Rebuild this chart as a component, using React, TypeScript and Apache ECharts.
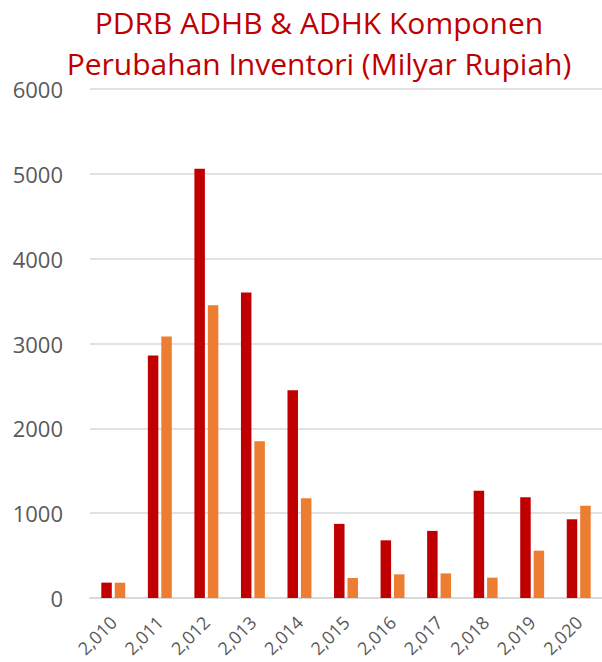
import React, { useEffect, useRef } from "react";
import * as echarts from "echarts";

const categories = ["2,010", "2,011", "2,012", "2,013", "2,014", "2,015", "2,016", "2,017", "2,018", "2,019", "2,020"];
const adhb = [181, 2858, 5059, 3602, 2449, 874, 680, 791, 1263, 1188, 928];
const adhk = [180, 3083, 3452, 1847, 1177, 236, 279, 290, 240, 558, 1086];
const titleLines = ["PDRB ADHB & ADHK Komponen", "Perubahan Inventori (Milyar Rupiah)"];

export default function App() {
  const ref = useRef<HTMLDivElement>(null);
  useEffect(() => {
    if (!ref.current) return;
    const chart = echarts.init(ref.current, null, { renderer: "svg" });
    chart.setOption({
      animation: false,
      title: {
        text: titleLines.join("\n"),
        left: 314,
        textAlign: "center",
        top: -3,
        textStyle: {
          color: "#C00000",
          fontFamily: "Open Sans",
          fontWeight: "normal",
          fontSize: 30,
          lineHeight: 41,
        },
      },
      grid: { left: 90, top: 89, width: 517, bottom: 64, containLabel: false },
      xAxis: {
        type: "category",
        data: categories,
        axisLine: { lineStyle: { color: "#D9D9D9", width: 2 } },
        axisTick: { show: false },
        axisLabel: {
          rotate: 45,
          color: "#595959",
          fontFamily: "Open Sans",
          fontSize: 18,
          margin: 21,
        },
      },
      yAxis: {
        type: "value",
        min: 0,
        max: 6000,
        interval: 1000,
        axisLine: { show: false },
        axisTick: { show: false },
        splitLine: { lineStyle: { color: "#D9D9D9", width: 1.5 } },
        axisLabel: {
          color: "#595959",
          fontFamily: "Open Sans",
          fontSize: 22,
          margin: 27,
          formatter: (v: number) => String(v),
        },
      },
      series: [
        {
          type: "bar",
          data: adhb,
          barWidth: 10.5,
          barGap: "28%",
          itemStyle: { color: "#C00000" },
        },
        {
          type: "bar",
          data: adhk,
          barWidth: 10.5,
          itemStyle: { color: "#ED7D31" },
        },
      ],
    });
    return () => chart.dispose();
  }, []);
  return <div ref={ref} style={{ width: 602, height: 662, position: "absolute", left: 0, top: 0, background: "#fff" }} />;
}
